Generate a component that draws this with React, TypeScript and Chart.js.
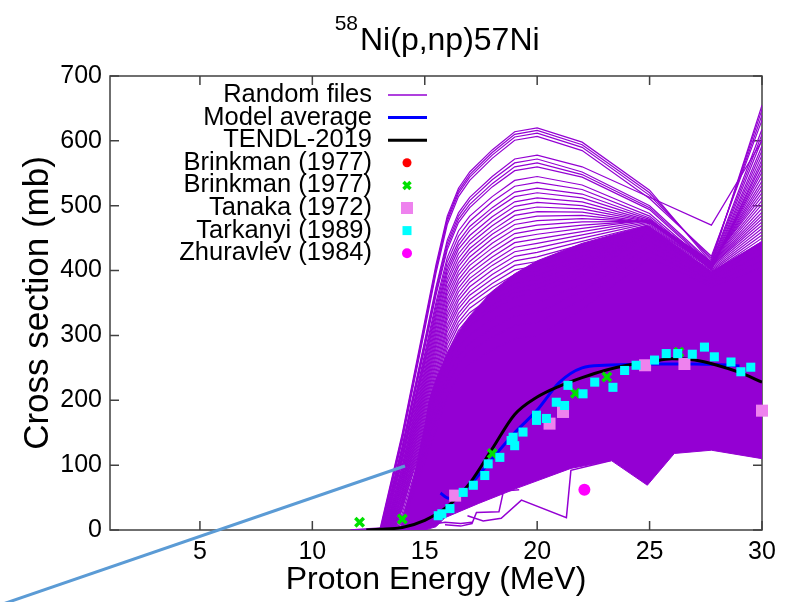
import React, { useEffect, useRef } from 'react';
import { Chart, registerables } from 'chart.js';

Chart.register(...registerables);

const FONT = '"Liberation Sans", Arial, Helvetica, sans-serif';

// ---- axes ----
const xTickValues = [5, 10, 15, 20, 25, 30];
const yTickValues = [0, 100, 200, 300, 400, 500, 600, 700];

// ---- Random files: threshold (MeV, cross section 0) + cross sections (mb) on a shared energy grid ----
const rfEnergy = [14, 15, 15.5, 16, 16.5, 17, 18, 19, 20, 22, 25, 27.75, 30];

const rfTopThreshold = [13.0, 13.02, 13.04, 13.06, 13.08, 13.1, 13.12, 13.14];
const rfTop = [
  [149, 322, 409, 484, 527, 552, 586, 614, 620, 598, 524, 412, 655],
  [146, 318, 405, 480, 523, 548, 582, 610, 616, 594, 520, 416, 648],
  [142, 314, 401, 476, 519, 544, 578, 606, 612, 590, 516, 419, 640],
  [138, 309, 396, 471, 514, 539, 573, 601, 607, 585, 511, 422, 632],
  [130, 292, 375, 447, 489, 513, 545, 572, 578, 560, 513, 470, 600],
  [127, 289, 371, 442, 484, 508, 540, 566, 572, 552, 500, 412, 618],
  [124, 285, 366, 437, 479, 502, 534, 560, 566, 548, 497, 410, 610],
  [121, 281, 362, 432, 474, 497, 529, 554, 560, 544, 494, 408, 602],
];

const rfUpperThreshold = [13.16, 13.18, 13.2, 13.22, 13.24, 13.26, 13.28, 13.3, 13.32, 13.34, 13.36];
const rfUpper = [
  [116, 272, 351, 420, 461, 484, 514, 539, 545, 532, 488, 406, 592],
  [113, 267, 345, 413, 453, 476, 506, 530, 536, 525, 484, 404, 585],
  [110, 262, 339, 406, 445, 468, 497, 521, 527, 518, 481, 402, 578],
  [106, 258, 334, 400, 439, 462, 491, 514, 520, 512, 479, 401, 571],
  [100, 253, 328, 394, 433, 454, 483, 506, 512, 506, 477, 403, 565],
  [97, 247, 322, 387, 426, 447, 476, 499, 505, 500, 476, 405, 558],
  [93, 242, 316, 381, 419, 441, 469, 492, 498, 495, 475, 407, 552],
  [90, 237, 310, 374, 412, 434, 462, 485, 491, 490, 474, 409, 545],
  [86, 232, 304, 368, 406, 428, 456, 478, 484, 485, 474, 410, 538],
  [83, 227, 298, 362, 399, 421, 449, 471, 477, 480, 475, 411, 532],
  [80, 222, 292, 355, 393, 414, 442, 464, 470, 475, 476, 412, 526],
];

const rfMiddleThreshold = [13.38, 13.4, 13.42, 13.44, 13.46, 13.48, 13.5, 13.52, 13.54, 13.56];
const rfMiddle = [
  [76, 217, 286, 349, 386, 408, 435, 457, 463, 470, 477, 413, 520],
  [73, 212, 280, 343, 380, 401, 428, 450, 456, 465, 478, 414, 514],
  [70, 207, 274, 336, 373, 395, 421, 443, 449, 460, 477, 413, 508],
  [67, 202, 268, 330, 367, 388, 414, 436, 442, 455, 475, 412, 502],
  [63, 197, 262, 324, 360, 382, 408, 429, 435, 450, 473, 411, 496],
  [60, 192, 256, 317, 354, 375, 401, 422, 428, 445, 471, 410, 490],
  [57, 187, 250, 311, 347, 368, 394, 415, 421, 440, 469, 409, 485],
  [54, 182, 244, 305, 341, 362, 387, 408, 414, 434, 467, 408, 480],
  [50, 177, 238, 298, 334, 355, 380, 401, 407, 428, 465, 407, 475],
  [47, 172, 232, 292, 328, 349, 374, 394, 400, 422, 463, 405, 470],
];

const rfLowerThreshold = [13.58, 13.6, 13.62, 13.64, 13.66, 13.7, 13.75, 13.8, 13.9];
const rfLower = [
  [44, 167, 226, 286, 321, 342, 367, 387, 393, 416, 461, 403, 465],
  [41, 162, 220, 279, 315, 335, 360, 380, 386, 410, 459, 401, 460],
  [38, 157, 214, 273, 308, 329, 353, 373, 379, 404, 457, 399, 455],
  [35, 152, 208, 267, 302, 322, 346, 366, 372, 398, 455, 397, 450],
  [32, 147, 202, 260, 295, 315, 339, 359, 365, 392, 452, 395, 445],
  [26, 138, 191, 248, 282, 301, 325, 344, 350, 380, 445, 390, 435],
  [20, 128, 180, 236, 269, 288, 311, 330, 335, 368, 438, 385, 425],
  [15, 118, 169, 224, 256, 275, 297, 315, 320, 355, 430, 380, 415],
  [7, 105, 154, 207, 238, 256, 278, 295, 300, 340, 420, 375, 405],
];

// dense core of the random-file band (outline: upper edge, then lower edge back)
const coreEnergy = [13.9, 14.5, 15, 15.2, 15.5, 16, 16.5, 17, 18, 19, 20, 22, 24.9, 27.75, 30,
  30, 27.75, 26.1, 24.9, 23.3, 21.5, 19.15, 17.4, 15.9, 15.5, 15.0];
const coreXS = [0, 80, 160, 200, 232, 272, 305, 330, 368, 395, 415, 442, 470, 398, 445,
  110, 123, 118, 69, 107, 95, 65, 41, 19, 5, 0];

// stray low random files
const lowAEnergy = [11.7, 12.5, 13.5, 14.5, 15.2, 15.9, 16.6, 17.1];
const lowAXS = [0, 2, 4, 6, 8, 12, 10, 12];
const oddAEnergy = [16.9, 17.6, 18.4, 19.3, 21.3, 21.5, 23.3];
const oddAXS = [22, 14, 18, 46, 19, 92, 107];
const oddBEnergy = [15.9, 16.6, 17.1, 17.3, 18.3, 18.5, 19.2];
const oddBXS = [8, 6, 10, 27, 28, 60, 62];

// ---- Model average ----
const avgEnergy = [15.7, 16.05, 17, 18, 19, 20, 21, 22, 23, 24, 25, 26, 27, 28, 29];
const avgXS = [57, 49, 70, 110, 150, 185, 228, 250, 254, 255, 256, 256, 256, 255, 253];

// ---- TENDL-2019 ----
const tendlEnergy = [12.4, 13, 14, 15, 16, 17, 18, 19, 20, 21, 22, 23, 24, 25, 26, 27, 28, 29, 30];
const tendlXS = [0, 1, 4, 15, 36, 72, 125, 178, 205, 222, 235, 246, 254, 259, 264, 262, 254, 243, 228];

// ---- Experimental data ----
const brinkmanAEnergy: number[] = [];
const brinkmanAXS: number[] = [];
const brinkmanBEnergy = [12.1, 14.0, 18.0, 21.7, 23.1, 26.3];
const brinkmanBXS = [12, 17, 118, 211, 236, 274];
const tanakaEnergy = [16.35, 20.55, 21.15, 24.8, 26.55, 30.0];
const tanakaXS = [53, 164, 182, 254, 256, 184];
const tarkanyiEnergy = [15.6, 15.76, 16.12, 16.71, 17.16, 17.67, 17.82, 18.34, 18.84, 19.0, 18.93, 19.37, 19.97, 19.97,
  20.41, 20.85, 21.22, 21.37, 22.04, 22.56, 23.37, 23.89, 24.4, 25.22, 25.74, 26.25, 26.9, 27.44, 27.88, 28.62, 29.06, 29.5];
const tarkanyiXS = [22, 25, 33, 58, 69, 84, 102, 112, 138, 130, 143, 151, 169, 177,
  172, 197, 192, 223, 210, 228, 220, 246, 254, 262, 272, 272, 271, 282, 267, 259, 244, 251];
const zhuravlevEnergy = [22.1];
const zhuravlevXS = [62];

// ---- annotation arrow (data coordinates) ----
const arrowEnergy = [-3.89, 14.12];
const arrowXS = [-115.6, 98.7];

const legendLabels = ['Random files', 'Model average', 'TENDL-2019', 'Brinkman (1977)', 'Brinkman (1977)',
  'Tanaka (1972)', 'Tarkanyi (1989)', 'Zhuravlev (1984)'];

const PURPLE = '#9400d3';
const COLORS = {
  red: '#ff0000', green: '#00e000', violet: '#ee82ee', cyan: '#00ffff', magenta: '#ff00ff',
  blue: '#0000ff', black: '#000000', arrow: '#5b9bd5',
};

const pts = (xs: number[], ys: number[]) => xs.map((x, i) => ({ x, y: ys[i] }));

export default function App() {
  const ref = useRef<HTMLCanvasElement>(null);

  useEffect(() => {
    const canvas = ref.current;
    if (!canvas) return;

    const rfSets: any[] = [];
    const addGroup = (thr: number[], rows: number[][]) => {
      rows.forEach((row, i) => {
        rfSets.push({
          data: [{ x: thr[i], y: 0 }, ...pts(rfEnergy, row)],
          borderColor: PURPLE, borderWidth: 1.2, pointRadius: 0, fill: false, order: 7,
        });
      });
    };
    addGroup(rfTopThreshold, rfTop);
    addGroup(rfUpperThreshold, rfUpper);
    addGroup(rfMiddleThreshold, rfMiddle);
    addGroup(rfLowerThreshold, rfLower);
    [[lowAEnergy, lowAXS], [oddAEnergy, oddAXS], [oddBEnergy, oddBXS]].forEach(([xs, ys]) => {
      rfSets.push({ data: pts(xs, ys), borderColor: PURPLE, borderWidth: 1.5, pointRadius: 0, fill: false, order: 7 });
    });

    const datasets: any[] = [
      {
        data: pts(arrowEnergy, arrowXS), borderColor: COLORS.arrow, borderWidth: 3, pointRadius: 0,
        fill: false, clip: false, order: -1,
      },
      {
        data: pts(zhuravlevEnergy, zhuravlevXS), showLine: false, pointStyle: 'circle', pointRadius: 6,
        backgroundColor: COLORS.magenta, borderWidth: 0, clip: false, order: 0,
      },
      {
        data: pts(tarkanyiEnergy, tarkanyiXS), showLine: false, pointStyle: 'rect', pointRadius: 6.4,
        backgroundColor: COLORS.cyan, borderWidth: 0, clip: false, order: 1,
      },
      {
        data: pts(tanakaEnergy, tanakaXS), showLine: false, pointStyle: 'rect', pointRadius: 8.5,
        backgroundColor: COLORS.violet, borderWidth: 0, clip: false, order: 2,
      },
      {
        data: pts(brinkmanBEnergy, brinkmanBXS), showLine: false, pointStyle: 'crossRot', pointRadius: 6,
        borderColor: COLORS.green, backgroundColor: COLORS.green, borderWidth: 3.5, clip: false, order: 3,
      },
      {
        data: pts(brinkmanAEnergy, brinkmanAXS), showLine: false, pointStyle: 'circle', pointRadius: 5,
        backgroundColor: COLORS.red, borderWidth: 0, clip: false, order: 4,
      },
      {
        data: pts(tendlEnergy, tendlXS), borderColor: COLORS.black, borderWidth: 3, pointRadius: 0,
        cubicInterpolationMode: 'monotone', fill: false, order: 5,
      },
      {
        data: pts(avgEnergy, avgXS), borderColor: COLORS.blue, borderWidth: 3, pointRadius: 0,
        cubicInterpolationMode: 'monotone', fill: false, order: 6,
      },
      ...rfSets,
      {
        data: pts(coreEnergy, coreXS), borderColor: PURPLE, borderWidth: 1, backgroundColor: PURPLE,
        pointRadius: 0, fill: 'shape', order: 8,
      },
    ];

    const framePlugin = {
      id: 'gnuFrame',
      beforeDatasetsDraw(chart: any) {
        const { ctx, chartArea: a, scales } = chart;
        ctx.save();
        ctx.strokeStyle = '#404040';
        ctx.lineWidth = 1.5;
        ctx.strokeRect(a.left, a.top, a.right - a.left, a.bottom - a.top);
        const L = 9;
        ctx.beginPath();
        xTickValues.forEach((v) => {
          const px = scales.x.getPixelForValue(v);
          ctx.moveTo(px, a.bottom); ctx.lineTo(px, a.bottom - L);
          ctx.moveTo(px, a.top); ctx.lineTo(px, a.top + L);
        });
        yTickValues.forEach((v) => {
          const py = scales.y.getPixelForValue(v);
          ctx.moveTo(a.left, py); ctx.lineTo(a.left + L, py);
          ctx.moveTo(a.right, py); ctx.lineTo(a.right - L, py);
        });
        ctx.stroke();
        ctx.restore();
      },
    };

    const titlePlugin = {
      id: 'gnuTitle',
      afterDraw(chart: any) {
        const { ctx } = chart;
        ctx.save();
        ctx.fillStyle = '#000';
        ctx.textBaseline = 'alphabetic';
        ctx.textAlign = 'left';
        ctx.font = `32px ${FONT}`;
        ctx.fillText('Ni(p,np)57Ni', 360, 50);
        ctx.textAlign = 'right';
        ctx.font = `21px ${FONT}`;
        ctx.fillText('58', 358, 30);
        ctx.restore();
      },
    };

    const legendPlugin = {
      id: 'gnuLegend',
      afterDraw(chart: any) {
        const { ctx } = chart;
        ctx.save();
        const textRight = 372;
        const sx0 = 388, sx1 = 427, mx = 407;
        legendLabels.forEach((label, i) => {
          const y = 95 + 22.6 * i;
          ctx.fillStyle = '#000';
          ctx.font = `25.5px ${FONT}`;
          ctx.textAlign = 'right';
          ctx.textBaseline = 'middle';
          ctx.fillText(label, textRight, y);
          ctx.beginPath();
          if (i === 0 || i === 1 || i === 2) {
            ctx.strokeStyle = i === 0 ? PURPLE : i === 1 ? COLORS.blue : COLORS.black;
            ctx.lineWidth = i === 0 ? 1.5 : 3;
            ctx.moveTo(sx0, y); ctx.lineTo(sx1, y); ctx.stroke();
          } else if (i === 3) {
            ctx.fillStyle = COLORS.red; ctx.arc(mx, y, 4.5, 0, Math.PI * 2); ctx.fill();
          } else if (i === 4) {
            ctx.strokeStyle = COLORS.green; ctx.lineWidth = 3.5;
            ctx.moveTo(mx - 3.5, y - 3.5); ctx.lineTo(mx + 3.5, y + 3.5);
            ctx.moveTo(mx - 3.5, y + 3.5); ctx.lineTo(mx + 3.5, y - 3.5); ctx.stroke();
          } else if (i === 5) {
            ctx.fillStyle = COLORS.violet; ctx.fillRect(mx - 6, y - 6, 12, 12);
          } else if (i === 6) {
            ctx.fillStyle = COLORS.cyan; ctx.fillRect(mx - 4.5, y - 4.5, 9, 9);
          } else {
            ctx.fillStyle = COLORS.magenta; ctx.arc(mx, y, 5, 0, Math.PI * 2); ctx.fill();
          }
        });
        ctx.restore();
      },
    };

    const chart = new Chart(canvas, {
      type: 'line',
      data: { datasets },
      options: {
        animation: false,
        responsive: false,
        devicePixelRatio: 1,
        events: [],
        layout: { padding: { top: 76, right: 29, left: 0, bottom: 0 } },
        plugins: { legend: { display: false }, tooltip: { enabled: false }, title: { display: false } },
        elements: { line: { tension: 0 }, point: { hoverRadius: 0 } },
        scales: {
          x: {
            type: 'linear', min: 1, max: 30,
            grid: { display: false },
            border: { display: false },
            ticks: { font: { family: FONT, size: 25 }, color: '#000', padding: -1, maxRotation: 0, autoSkip: false },
            afterBuildTicks: (s: any) => { s.ticks = xTickValues.map((v) => ({ value: v })); },
            afterFit: (s: any) => { s.height = 72; },
            title: {
              display: true, text: 'Proton Energy (MeV)', color: '#000',
              font: { family: FONT, size: 32 }, padding: { top: 0, bottom: 3 },
            },
          },
          y: {
            type: 'linear', min: 0, max: 700,
            grid: { display: false },
            border: { display: false },
            ticks: { font: { family: FONT, size: 25 }, color: '#000', padding: 0 },
            afterBuildTicks: (s: any) => { s.ticks = yTickValues.map((v) => ({ value: v })); },
            afterFit: (s: any) => { s.width = 110; },
            title: {
              display: true, text: 'Cross section (mb)', color: '#000',
              font: { family: FONT, size: 35 }, padding: { top: 17, bottom: 0 },
            },
          },
        },
      },
      plugins: [framePlugin, titlePlugin, legendPlugin],
    } as any);

    return () => chart.destroy();
  }, []);

  return (
    <canvas
      ref={ref}
      width={791}
      height={602}
      style={{ position: 'absolute', left: 0, top: 0, width: 791, height: 602, background: '#fff' }}
    />
  );
}
